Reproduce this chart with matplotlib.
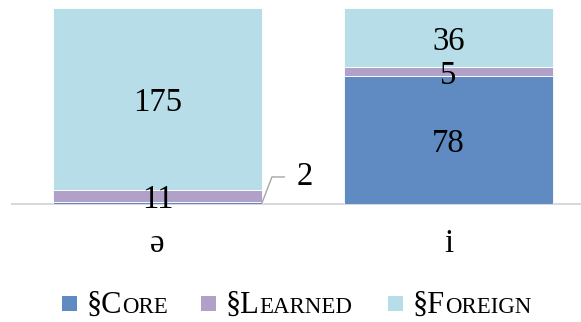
import numpy as np
import matplotlib
matplotlib.use('Agg')
import matplotlib.pyplot as plt
from matplotlib.patches import Rectangle

# vowel categories and word counts per lexical stratum
vowels = ['ə', 'i']
series = ['Core', 'Learned', 'Foreign']
core = [2, 78]
learned = [11, 5]
foreign = [175, 36]
colors = ['#5F8AC2', '#B1A0C7', '#B7DDE8']

plt.rcParams['font.family'] = ['Liberation Serif', 'DejaVu Serif']

counts = np.array([core, learned, foreign], dtype=float)
shares = counts / counts.sum(axis=0)  # 100% stacked

W, H = 581, 322
fig = plt.figure(figsize=(W / 100, H / 100), dpi=100)
ax = fig.add_axes([12 / W, (H - 204) / H, 582 / W, 196 / H])

x = np.arange(len(vowels))
width = 0.718
fs = 23.5
bottom = np.zeros(len(vowels))
for i, name in enumerate(series):
    ax.bar(x, shares[i], width, bottom=bottom, color=colors[i],
           edgecolor='white', linewidth=0.6, zorder=2)
    for j in range(len(vowels)):
        mid = bottom[j] + shares[i, j] / 2
        if name == 'Core' and j == 0:
            # tiny segment: label outside with a leader line
            ax.annotate(str(int(counts[i, j])), xy=(x[j] + width / 2, mid),
                        xytext=(35, 26), textcoords='offset pixels',
                        ha='left', va='center', fontsize=fs,
                        arrowprops=dict(arrowstyle='-', color='#A6A6A6', lw=1,
                                        connectionstyle='angle,angleA=0,angleB=69,rad=0',
                                        shrinkA=7, shrinkB=0))
        else:
            ax.annotate(str(int(counts[i, j])), xy=(x[j], mid),
                        xytext=(0, -4), textcoords='offset pixels',
                        ha='center', va='center', fontsize=fs, zorder=3)
    bottom += shares[i]

ax.set_xlim(-0.5, len(vowels) - 0.5)
ax.set_ylim(0, 1)
ax.set_xticks(x)
ax.set_xticklabels(vowels, fontsize=fs)
ax.tick_params(axis='x', length=0, pad=18)
ax.set_yticks([])
for s in ['top', 'left', 'right']:
    ax.spines[s].set_visible(False)
ax.spines['bottom'].set_color('#D9D9D9')
ax.spines['bottom'].set_linewidth(1.5)
ax.spines['bottom'].set_zorder(1)

# legend with small-caps labels
renderer = fig.canvas.get_renderer()
legend_x = [62, 201, 388]
for name, col, lx in zip(series, colors, legend_x):
    fig.add_artist(Rectangle((lx / W, (H - 311) / H), 15 / W, 15 / H,
                             transform=fig.transFigure, facecolor=col, edgecolor='none'))
    t1 = fig.text((lx + 25) / W, (H - 313) / H, '§' + name[0], fontsize=22, va='baseline')
    bb = t1.get_window_extent(renderer)
    fig.text(bb.x1 / W, (H - 313) / H, name[1:].upper(), fontsize=16.5, va='baseline')

fig.savefig('out.png', dpi=100)
